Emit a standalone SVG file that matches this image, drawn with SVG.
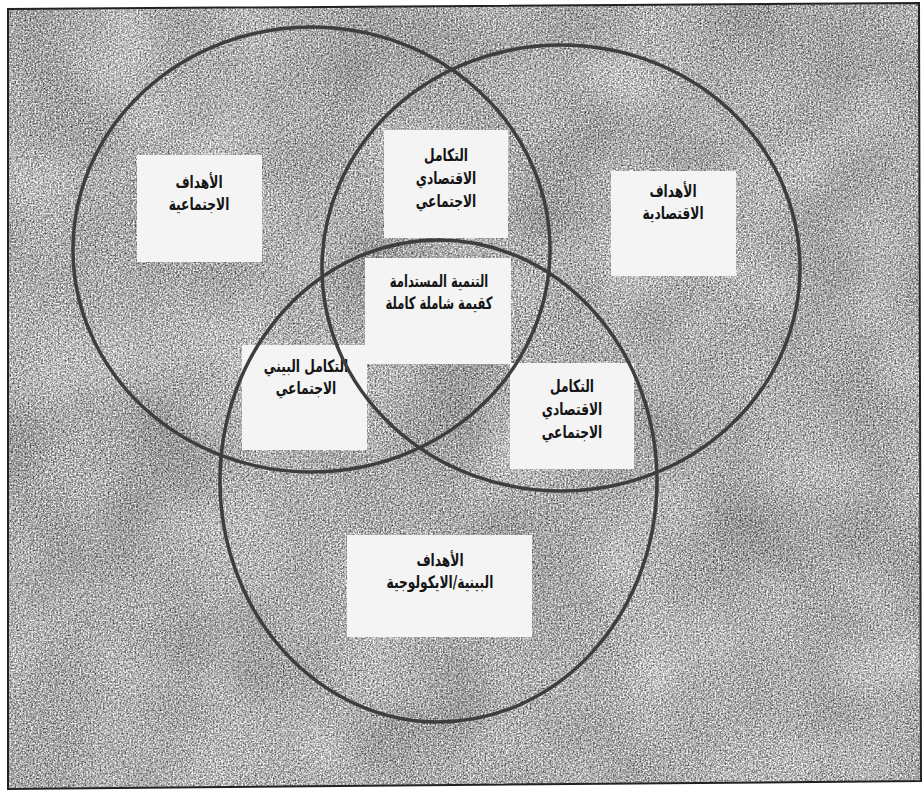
<svg xmlns="http://www.w3.org/2000/svg" width="923" height="792" viewBox="0 0 923 792">
<defs>
<filter id="noise" x="0" y="0" width="100%" height="100%" color-interpolation-filters="sRGB">
<feTurbulence type="fractalNoise" baseFrequency="0.6" numOctaves="2" seed="7" result="fine"/>
<feTurbulence type="fractalNoise" baseFrequency="0.01" numOctaves="2" seed="2" result="coarse"/>
<feComposite in="fine" in2="coarse" operator="arithmetic" k1="0" k2="0.85" k3="0.15" k4="0" result="mix"/>
<feColorMatrix in="mix" type="saturate" values="0" result="gray"/>
<feComponentTransfer in="gray">
<feFuncR type="linear" slope="1.8" intercept="-0.22"/>
<feFuncG type="linear" slope="1.8" intercept="-0.22"/>
<feFuncB type="linear" slope="1.8" intercept="-0.22"/>
<feFuncA type="linear" slope="0" intercept="1"/>
</feComponentTransfer>
</filter>
<clipPath id="frameClip"><polygon points="8,9 919,3 921,781 8,789"/></clipPath>
</defs>
<style>
.box{fill:#f4f4f4;}
.lbl{font-family:"DejaVu Sans","Noto Sans",sans-serif;font-weight:bold;font-size:17px;fill:#151515;text-anchor:middle;direction:rtl;}
.ring{fill:none;stroke:#3e3e3e;stroke-width:3.5;}
</style>
<rect x="0" y="0" width="923" height="792" fill="#ffffff"/>
<g id="background">
<rect x="0" y="0" width="923" height="792" filter="url(#noise)" clip-path="url(#frameClip)"/>
<polygon points="8,9 919,3 921,781 8,789" fill="none" stroke="#222" stroke-width="2"/>
</g>
<g id="node-social-goals">
<rect class="box" x="137" y="155" width="125" height="107"/>
<g transform="translate(199,0) scale(0.72,1)">
<text class="lbl" x="0" y="188">الأهداف</text>
<text class="lbl" x="0" y="210">الاجتماعية</text>
</g>
</g>
<g id="node-econ-social-top">
<rect class="box" x="384" y="130" width="124" height="108"/>
<g transform="translate(446,0) scale(0.72,1)">
<text class="lbl" x="0" y="161">التكامل</text>
<text class="lbl" x="0" y="184">الاقتصادي</text>
<text class="lbl" x="0" y="207">الاجتماعي</text>
</g>
</g>
<g id="node-economic-goals">
<rect class="box" x="611" y="171" width="125" height="105"/>
<g transform="translate(673,0) scale(0.72,1)">
<text class="lbl" x="0" y="197">الأهداف</text>
<text class="lbl" x="0" y="219">الاقتصادية</text>
</g>
</g>
<g id="node-sustainable">
<rect class="box" x="365" y="258" width="146" height="106"/>
<g transform="translate(439,0) scale(0.68,1)">
<text class="lbl" x="0" y="287">التنمية المستدامة</text>
<text class="lbl" x="0" y="309">كقيمة شاملة كاملة</text>
</g>
</g>
<g id="node-env-social">
<rect class="box" x="242" y="345" width="125" height="105"/>
<g transform="translate(306,0) scale(0.72,1)">
<text class="lbl" x="0" y="372">التكامل البيني</text>
<text class="lbl" x="0" y="394">الاجتماعي</text>
</g>
</g>
<g id="node-econ-social-bottom">
<rect class="box" x="510" y="363" width="124" height="106"/>
<g transform="translate(572,0) scale(0.72,1)">
<text class="lbl" x="0" y="392">التكامل</text>
<text class="lbl" x="0" y="415">الاقتصادي</text>
<text class="lbl" x="0" y="438">الاجتماعي</text>
</g>
</g>
<g id="node-environmental-goals">
<rect class="box" x="347" y="535" width="185" height="102"/>
<g transform="translate(440,0) scale(0.72,1)">
<text class="lbl" x="0" y="566">الأهداف</text>
<text class="lbl" x="0" y="588">البينية/الايكولوجية</text>
</g>
</g>
<g id="connectors">
<ellipse id="circle-social" class="ring" cx="311.5" cy="249.5" rx="238.5" ry="222.5"/>
<ellipse id="circle-economic" class="ring" cx="561" cy="268" rx="239" ry="223"/>
<ellipse id="circle-environment" class="ring" cx="438.5" cy="481" rx="218.5" ry="241"/>
</g>
</svg>
